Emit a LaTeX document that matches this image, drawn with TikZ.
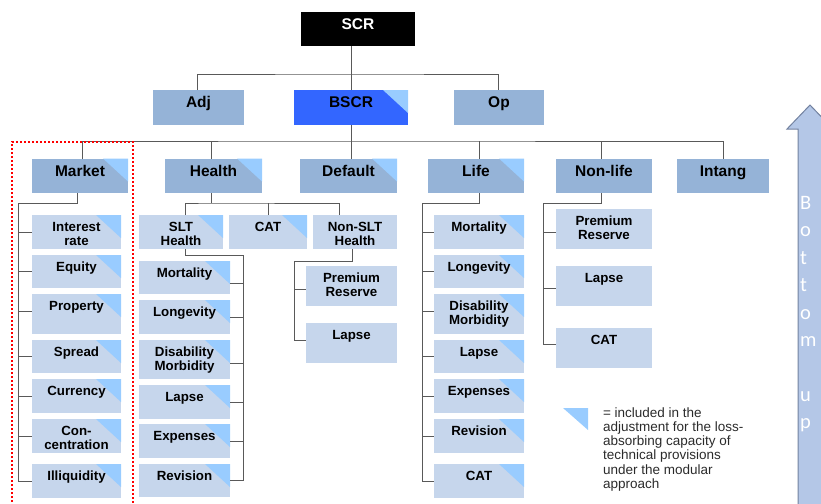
\documentclass[tikz,border=0pt]{standalone}
\usepackage{fontspec}
\setmainfont{Liberation Sans}
\newfontfamily\calib{Carlito}
\definecolor{mainblue}{HTML}{95B3D7}
\definecolor{subblue}{HTML}{C6D6EC}
\definecolor{triblue}{HTML}{99CCFF}
\definecolor{bscrblue}{HTML}{3366FF}
\definecolor{linegray}{HTML}{595959}
\definecolor{arrowfill}{HTML}{B4C7E7}
\definecolor{arrowdraw}{HTML}{7382A0}
\definecolor{legendgray}{HTML}{2B2B2B}
\tikzset{
  every node/.style={inner sep=0pt, outer sep=0pt},
  conn/.style={draw=linegray, line width=1pt},
  mainfill/.style={fill=mainblue},
  subfill/.style={fill=subblue},
  withtri/.style={path picture={\fill[triblue] ([xshift=-25pt]path picture bounding box.north east) -- (path picture bounding box.north east) -- ([yshift=-23pt]path picture bounding box.north east) -- cycle;}},
  reddot/.style={draw=red, line width=2pt, dash pattern=on 2pt off 2pt},
}
\newcommand\mainbox[7]{%
  \pgfmathsetmacro\bw{#5-#3}\pgfmathsetmacro\bh{#6-#4}%
  \node[#1] (#2) at ({(#3+#5)/2},{(#4+#6)/2}) {\parbox[c][\bh pt][t]{\bw pt}{\centering\fontsize{15.5}{17}\selectfont\bfseries\rule{0pt}{17.7pt}#7}};}
\newcommand\subbox[7]{%
  \pgfmathsetmacro\bw{#5-#3}\pgfmathsetmacro\bh{#6-#4}%
  \node[#1] (#2) at ({(#3+#5)/2},{(#4+#6)/2}) {\parbox[c][\bh pt][t]{\bw pt}{\centering\fontsize{13.3}{14.3}\selectfont\bfseries\rule{0pt}{16.3pt}#7}};}
\begin{document}
\begin{tikzpicture}[x=1pt,y=-1pt]
\useasboundingbox (0,0) rectangle (821,503);
% top levels
\mainbox{fill=black,text=white}{SCR}{301}{12}{415}{46}{SCR}
\mainbox{mainfill}{Adj}{153}{90}{244}{125}{Adj}
\mainbox{fill=bscrblue,withtri}{BSCR}{294}{90}{408}{125}{BSCR}
\mainbox{mainfill}{Op}{454}{90}{544}{125}{Op}
% modules
\mainbox{mainfill,withtri}{Market}{32}{158.5}{128}{193}{Market}
\mainbox{mainfill,withtri}{Health}{165}{158.5}{262}{193}{Health}
\mainbox{mainfill,withtri}{Default}{300}{158.5}{397}{193}{Default}
\mainbox{mainfill,withtri}{Life}{428}{158.5}{524}{193}{Life}
\mainbox{mainfill}{NonLife}{556}{158.5}{652}{193}{Non-life}
\mainbox{mainfill}{Intang}{677}{158.5}{769}{193}{Intang}
% market sub-modules
\subbox{subfill,withtri}{MIR}{32}{215}{121}{249}{Interest\\rate}
\subbox{subfill,withtri}{MEq}{32}{255}{121}{288}{Equity}
\subbox{subfill,withtri}{MProp}{32}{294}{121}{334}{Property}
\subbox{subfill,withtri}{MSpr}{32}{340}{121}{373}{Spread}
\subbox{subfill,withtri}{MCur}{32}{379}{121}{413}{Currency}
\subbox{subfill,withtri}{MCon}{32}{419}{121}{453}{Con-\\centration}
\subbox{subfill,withtri}{MIll}{32}{464}{121}{498}{Illiquidity}
% health sub-modules
\subbox{subfill,withtri}{SLT}{139}{215}{223}{249}{SLT\\Health}
\subbox{subfill,withtri}{CATh}{229}{215}{307}{249}{CAT}
\subbox{subfill}{NSLT}{313}{215}{397}{249}{Non-SLT\\Health}
\subbox{subfill,withtri}{HMort}{139}{261}{230}{294}{Mortality}
\subbox{subfill,withtri}{HLon}{139}{300}{230}{334}{Longevity}
\subbox{subfill,withtri}{HDM}{139}{340}{230}{379}{Disability\\Morbidity}
\subbox{subfill,withtri}{HLap}{139}{385}{230}{419}{Lapse}
\subbox{subfill,withtri}{HExp}{139}{424}{230}{458}{Expenses}
\subbox{subfill,withtri}{HRev}{139}{464}{230}{497}{Revision}
\subbox{subfill}{NPR}{306}{266}{397}{306}{Premium\\Reserve}
\subbox{subfill}{NLap}{306}{323}{397}{363}{Lapse}
% life sub-modules
\subbox{subfill,withtri}{LMort}{434}{215}{524}{249}{Mortality}
\subbox{subfill,withtri}{LLon}{434}{255}{524}{288}{Longevity}
\subbox{subfill,withtri}{LDM}{434}{294}{524}{334}{Disability\\Morbidity}
\subbox{subfill,withtri}{LLap}{434}{340}{524}{373}{Lapse}
\subbox{subfill,withtri}{LExp}{434}{379}{524}{413}{Expenses}
\subbox{subfill,withtri}{LRev}{434}{419}{524}{453}{Revision}
\subbox{subfill,withtri}{LCAT}{434}{464}{524}{498}{CAT}
% non-life sub-modules
\subbox{subfill}{NLPR}{556}{209}{652}{249}{Premium\\Reserve}
\subbox{subfill}{NLLap}{556}{266}{652}{306}{Lapse}
\subbox{subfill}{NLCAT}{556}{328}{652}{368}{CAT}
% connectors: top
\coordinate (j1) at (351,74);
\coordinate (j2) at (351,141);
\draw[conn] ([xshift=-7pt]SCR.south) -- (BSCR.north);
\draw[conn] ([xshift=-1.5pt]Adj.north) |- (j1) -| ([xshift=-1pt]Op.north);
\draw[conn] (BSCR.south) -- (BSCR.south |- Default.north);
\draw[conn] ([xshift=2pt]Market.north) |- (j2) -| (Intang.north);
\draw[conn] ([xshift=-2.5pt]Health.north) -- ([xshift=-2.5pt]Health.north |- j2);
\draw[conn] ([xshift=3pt]Life.north) -- ([xshift=3pt]Life.north |- j2);
\draw[conn] ([xshift=-3pt]NonLife.north) -- ([xshift=-3pt]NonLife.north |- j2);
% market tree
\coordinate (mj) at (18,203);
\draw[conn] ([xshift=-3pt]Market.south) |- (mj) |- (MIll.west);
\foreach \n in {MIR,MEq,MSpr,MCur,MCon} \draw[conn] (mj |- \n.west) -- (\n.west);
\coordinate (tProp) at ([yshift=3pt]MProp.west);
\draw[conn] (mj |- tProp) -- (tProp);
% health tree
\coordinate (hj) at (211,203);
\draw[conn] ([xshift=-2.5pt]Health.south) -- (hj);
\draw[conn] ([xshift=4pt]SLT.north) |- (hj) -| ([xshift=-16pt]NSLT.north);
\draw[conn] (CATh.north) -- (CATh.north |- hj);
\coordinate (sj) at (243,255);
\draw[conn] ([xshift=4pt]SLT.south) |- (sj) |- (HRev.east);
\coordinate (tHMort) at ([yshift=-5.5pt]HMort.east);
\coordinate (tHDM) at ([yshift=-3.5pt]HDM.east);
\draw[conn] (sj |- tHMort) -- (tHMort);
\draw[conn] (sj |- tHDM) -- (tHDM);
\foreach \n in {HLon,HLap,HExp} \draw[conn] (sj |- \n.east) -- (\n.east);
\coordinate (nj) at (294,261);
\coordinate (tNLap) at ([yshift=3pt]NLap.west);
\coordinate (tNPR) at ([yshift=-3pt]NPR.west);
\draw[conn] ([xshift=-3pt]NSLT.south) |- (nj) |- (tNLap);
\draw[conn] (nj |- tNPR) -- (tNPR);
% life tree
\coordinate (lj) at (422,203);
\draw[conn] ([xshift=3pt]Life.south) |- (lj) |- (LCAT.west);
\foreach \n in {LMort,LLon,LLap,LExp,LRev} \draw[conn] (lj |- \n.west) -- (\n.west);
\coordinate (tLDM) at ([yshift=3pt]LDM.west);
\draw[conn] (lj |- tLDM) -- (tLDM);
% non-life tree
\coordinate (nlj) at (543,203);
\coordinate (tNLCAT) at ([yshift=4pt]NLCAT.west);
\coordinate (tNLPR) at ([yshift=-3pt]NLPR.west);
\coordinate (tNLLap) at ([yshift=-2pt]NLLap.west);
\draw[conn] ([xshift=-3pt]NonLife.south) |- (nlj) |- (tNLCAT);
\draw[conn] (nlj |- tNLPR) -- (tNLPR);
\draw[conn] (nlj |- tNLLap) -- (tNLLap);
% red dotted frame
\draw[reddot] (12,510) -- (12,142) -- (133,142) -- (133,510);
% legend
\fill[triblue] (563,408) -- (588,408) -- (588,430) -- cycle;
\node[anchor=north west, text=legendgray] (legend) at (603,406) {\parbox[t]{170pt}{\raggedright\fontsize{13.5}{14.3}\selectfont\rule{0pt}{11pt}= included in the\\adjustment for the loss-\\absorbing capacity of\\technical provisions\\under the modular\\approach}};
% bottom-up arrow
\filldraw[fill=arrowfill, draw=arrowdraw, line width=1pt] (798,515) -- (798,129) -- (787,129) -- (810,105) -- (833,129) -- (822,129) -- (822,515) -- cycle;
\node[anchor=north west, text=white] (arrowtext) at (800,194.5) {\parbox[t]{20pt}{\raggedright\calib\fontsize{20.5}{27.4}\selectfont\rule{0pt}{15pt}B\\o\\t\\t\\o\\m\\\mbox{}\\u\\p}};
\end{tikzpicture}
\end{document}
